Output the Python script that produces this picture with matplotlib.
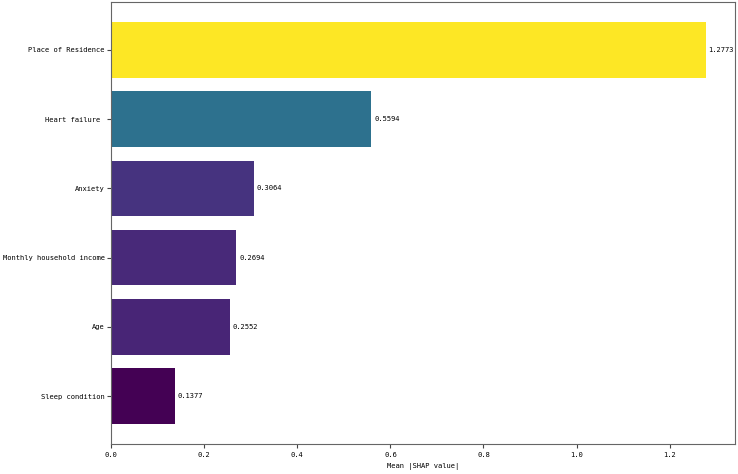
import matplotlib
matplotlib.use("Agg")
import matplotlib.pyplot as plt
import numpy as np

features = ["Sleep condition", "Age", "Monthly household income", "Anxiety", "Heart failure ", "Place of Residence"]
values = [0.1377, 0.2552, 0.2694, 0.3064, 0.5594, 1.2773]

plt.rcParams['font.family'] = ['DejaVu Sans Mono']

fig = plt.figure(figsize=(7.38, 4.74), dpi=100)
ax = fig.add_axes([0.1505, 0.0633, 0.846, 0.9325])

fs = 5.1
vals = np.array(values)
norm = plt.Normalize(vals.min(), vals.max())
colors = plt.cm.viridis(norm(vals))
y = np.arange(len(features))
ax.barh(y, vals, color=colors, height=0.8)
ax.set_yticks(y)
ax.set_yticklabels(features, fontsize=fs)
ax.tick_params(axis='x', length=3, pad=2.5, labelsize=fs, color='#444444')
ax.tick_params(axis='y', length=3, pad=1.5, labelsize=fs, color='#444444')
ax.set_xlim(0, vals.max() * 1.05)
for yi, v in zip(y, vals):
    ax.text(v + 0.006, yi, f"{v:.4f}", va='center', ha='left', fontsize=fs)
ax.set_xlabel("Mean |SHAP value|", fontsize=fs, labelpad=4)
for s in ax.spines.values():
    s.set_color('#666666')
fig.savefig("out.png", dpi=100)
